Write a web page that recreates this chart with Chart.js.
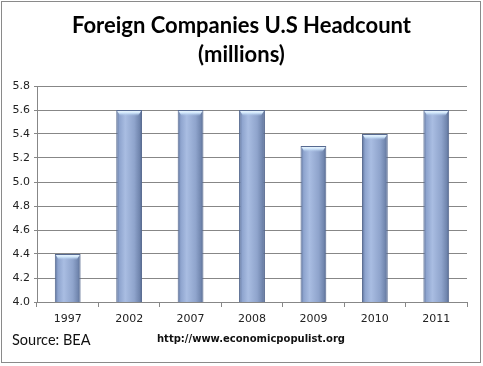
<!DOCTYPE html>
<html>
<head>
<meta charset="utf-8">
<script src="https://cdn.jsdelivr.net/npm/chart.js@4/dist/chart.umd.min.js"></script>
<style>
  html, body { margin: 0; padding: 0; background: #fff; }
  #wrap { position: relative; width: 483px; height: 366px; overflow: hidden; }
  #frame { position: absolute; left: 1px; top: 1px; width: 478px; height: 360px; border: 1px solid #8a8a8a; }
  #title { position: absolute; left: 0; top: 10px; width: 483px; text-align: center;
           font: 700 22px Lato, sans-serif; line-height: 29px; color: #000; }
  #source { position: absolute; left: 12px; top: 331px; font: 14.5px Lato, sans-serif; color: #111; }
  #site { position: absolute; left: 157px; top: 333px; font: 700 10px "DejaVu Sans", sans-serif; color: #111; }
  canvas { position: absolute; left: 0; top: 0; }
</style>
</head>
<body>
<div id="wrap">
  <canvas id="headcountChart" width="483" height="366"></canvas>
  <div id="frame"></div>
  <div id="title">Foreign Companies U.S Headcount<br>(millions)</div>
  <div id="source">Source: BEA</div>
  <div id="site">http://www.economicpopulist.org</div>
</div>
<script>
// data
const years = ['1997', '2002', '2007', '2008', '2009', '2010', '2011'];
const headcount = [4.4, 5.6, 5.6, 5.6, 5.3, 5.4, 5.6];
const yMin = 4.0;
const yMax = 5.8;
const yStep = 0.2;

const barPct = 0.42;

// horizontal shading so the bars look like the rounded ones in the original
function barFill(ctx) {
    const chart = ctx.chart;
    const xScale = chart.scales.x;
    if (!chart.chartArea || !xScale || ctx.type !== 'data') return '#8ea3cc';
    const cx = xScale.getPixelForValue(ctx.dataIndex);
    const half = xScale.width / years.length * barPct / 2;
    const g = chart.ctx.createLinearGradient(cx - half, 0, cx + half, 0);
    g.addColorStop(0, '#5a6f98');
    g.addColorStop(0.12, '#8ea4ce');
    g.addColorStop(0.35, '#a9bde2');
    g.addColorStop(0.7, '#8fa4cc');
    g.addColorStop(0.9, '#7186ae');
    g.addColorStop(1, '#53678e');
    return g;
}

// light cap on top of every bar
const barCaps = {
    id: 'barCaps',
    afterDatasetsDraw(chart) {
        const c = chart.ctx;
        chart.getDatasetMeta(0).data.forEach(bar => {
            const { x, y, width } = bar.getProps(['x', 'y', 'width'], true);
            const left = x - width / 2 + 1;
            const w = width - 2;
            c.save();
            const g = c.createLinearGradient(0, y, 0, y + 6);
            g.addColorStop(0, '#f4fbff');
            g.addColorStop(0.5, '#cfe6fb');
            g.addColorStop(1, 'rgba(170,195,230,0)');
            c.fillStyle = g;
            c.beginPath();
            c.moveTo(left, y + 1);
            c.lineTo(left + w, y + 1);
            c.lineTo(left + w - 3, y + 6);
            c.lineTo(left + 3, y + 6);
            c.closePath();
            c.fill();
            c.restore();
        });
    }
};

new Chart(document.getElementById('headcountChart'), {
    type: 'bar',
    data: {
        labels: years,
        datasets: [{
            label: 'Headcount (millions)',
            data: headcount,
            backgroundColor: barFill,
            borderColor: '#56698f',
            borderWidth: 1,
            barPercentage: barPct,
            categoryPercentage: 1
        }]
    },
    options: {
        responsive: false,
        animation: false,
        layout: { padding: { top: 86, right: 16, left: 0, bottom: 0 } },
        plugins: {
            legend: { display: false },
            title: { display: false },
            tooltip: { enabled: false }
        },
        scales: {
            x: {
                afterFit: s => { s.height = 64; },
                grid: {
                    offset: true,
                    drawOnChartArea: false,
                    color: '#878787',
                    tickLength: 5
                },
                border: { color: '#878787' },
                ticks: {
                    padding: 6,
                    color: '#222',
                    font: { family: 'DejaVu Sans', size: 11 }
                }
            },
            y: {
                min: yMin,
                max: yMax,
                afterFit: s => { s.width = 37; },
                grid: { color: '#878787', tickLength: 3 },
                border: { color: '#878787' },
                ticks: {
                    stepSize: yStep,
                    padding: 4,
                    color: '#222',
                    font: { family: 'DejaVu Sans', size: 11 },
                    callback: v => v.toFixed(1)
                }
            }
        }
    },
    plugins: [barCaps]
});
</script>
</body>
</html>
